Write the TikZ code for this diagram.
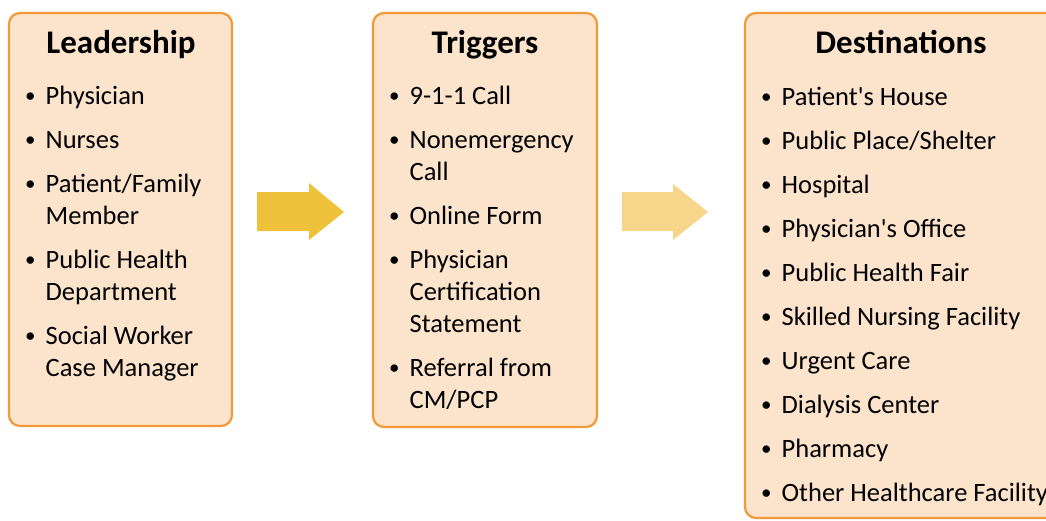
\documentclass[tikz,border=0pt]{standalone}
\usepackage{fontspec}
\setmainfont{Carlito}

\definecolor{boxfill}{HTML}{FCE4CC}
\definecolor{boxline}{HTML}{F29A3A}
\definecolor{arrowdark}{HTML}{F0C23B}
\definecolor{arrowlight}{HTML}{F7D58A}

\tikzset{
	panel/.style={draw=boxline, line width=2.2pt, fill=boxfill, rounded corners=11pt},
	title/.style={font=\fontsize{33}{36}\selectfont\bfseries, anchor=base, inner sep=0pt},
	items/.style={font=\fontsize{26.5}{32}\selectfont, anchor=base west, inner sep=0pt},
}
\newcommand{\bul}{\raisebox{1.6pt}{\fontsize{21}{21}\selectfont\textbullet}}
\newcommand{\gap}{\\[12pt]}

\begin{document}
\begin{tikzpicture}[x=1pt, y=-1pt]
		\useasboundingbox (0,0) rectangle (1046,520);
		\clip (0,0) rectangle (1046,520);
		% panels
		\draw[panel] (9,13) rectangle (232,426);
		\draw[panel] (373,13) rectangle (597,427);
		\draw[panel] (745,13) rectangle (1058,518);
		% block arrows
		\fill[arrowdark] (257,192) -- (309,192) -- (309,183) -- (344,212) -- (309,240) -- (309,231) -- (257,231) -- cycle;
		\fill[arrowlight] (622,192) -- (673,192) -- (673,184) -- (708,212) -- (673,240) -- (673,231) -- (622,231) -- cycle;
		% titles
		\node[title] (lead) at (121,53) {Leadership};
		\node[title] (trig) at (485,53) {Triggers};
		\node[title] (dest) at (901,53) {Destinations};
		% lists
		\node[items] (leadlist) at (25,104) {\begin{tabular}[t]{@{}l@{\hspace{10pt}}l@{}}
			\bul & Physician\gap
			\bul & Nurses\gap
			\bul & Patient/Family\\ & Member\gap
			\bul & Public Health\\ & Department\gap
			\bul & Social Worker\\ & Case Manager
		\end{tabular}};
		\node[items] (triglist) at (389,104) {\begin{tabular}[t]{@{}l@{\hspace{10pt}}l@{}}
			\bul & 9-1-1 Call\gap
			\bul & Nonemergency\\ & Call\gap
			\bul & Online Form\gap
			\bul & Physician\\ & Certification\\ & Statement\gap
			\bul & Referral from\\ & CM/PCP
		\end{tabular}};
		\node[items] (destlist) at (761,105) {\begin{tabular}[t]{@{}l@{\hspace{10pt}}l@{}}
			\bul & Patient\textquotesingle s House\gap
			\bul & Public Place/Shelter\gap
			\bul & Hospital\gap
			\bul & Physician\textquotesingle s Office\gap
			\bul & Public Health Fair\gap
			\bul & Skilled Nursing Facility\gap
			\bul & Urgent Care\gap
			\bul & Dialysis Center\gap
			\bul & Pharmacy\gap
			\bul & Other Healthcare Facility
		\end{tabular}};
	\end{tikzpicture}
\end{document}
